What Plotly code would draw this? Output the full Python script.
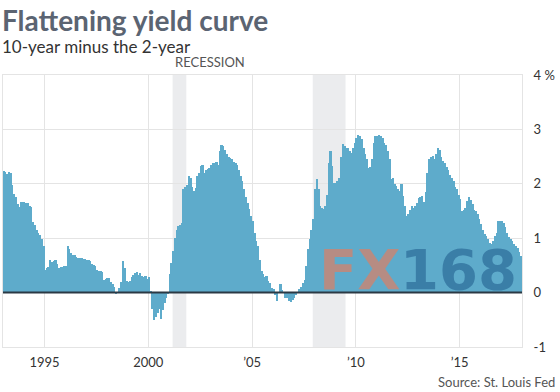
import plotly.graph_objects as go

# Monthly 10-year minus 2-year Treasury spread (percentage points), Jan 1993 - Dec 2017
spread_by_year = {
    1993: [2.23, 2.22, 2.18, 2.21, 2.20, 1.98, 1.82, 1.75, 1.62, 1.58, 1.66, 1.67],
    1994: [1.66, 1.65, 1.64, 1.59, 1.58, 1.30, 1.25, 1.15, 1.10, 1.05, 0.98, 0.85],
    1995: [0.42, 0.45, 0.47, 0.60, 0.56, 0.58, 0.60, 0.52, 0.45, 0.47, 0.47, 0.48],
    1996: [0.48, 0.85, 0.80, 0.72, 0.70, 0.70, 0.65, 0.64, 0.63, 0.63, 0.62, 0.62],
    1997: [0.60, 0.60, 0.58, 0.52, 0.50, 0.48, 0.42, 0.40, 0.40, 0.38, 0.24, 0.25],
    1998: [0.27, 0.27, 0.20, 0.15, 0.10, -0.03, 0.00, 0.08, 0.20, 0.58, 0.45, 0.22],
    1999: [0.20, 0.22, 0.28, 0.33, 0.36, 0.38, 0.33, 0.36, 0.30, 0.28, 0.30, 0.25],
    2000: [0.28, 0.02, -0.30, -0.50, -0.44, -0.38, -0.30, -0.48, -0.32, -0.20, -0.10, -0.03],
    2001: [0.35, 0.55, 0.76, 1.00, 1.16, 1.22, 1.25, 1.28, 1.90, 1.95, 1.98, 2.14],
    2002: [2.10, 1.95, 1.87, 1.93, 2.14, 2.20, 2.32, 2.35, 2.20, 2.25, 2.28, 2.29],
    2003: [2.35, 2.38, 2.38, 2.40, 2.35, 2.60, 2.72, 2.70, 2.62, 2.55, 2.50, 2.47],
    2004: [2.45, 2.40, 2.38, 2.35, 2.26, 2.15, 2.05, 1.90, 1.75, 1.65, 1.53, 1.40],
    2005: [1.31, 1.10, 0.95, 0.85, 0.60, 0.40, 0.35, 0.28, 0.30, 0.22, 0.17, 0.08],
    2006: [0.06, -0.05, -0.15, 0.00, 0.15, 0.05, 0.00, -0.09, -0.10, -0.15, -0.18, -0.14],
    2007: [-0.09, -0.05, 0.00, 0.06, 0.10, 0.18, 0.24, 0.48, 0.80, 0.98, 1.15, 1.35],
    2008: [1.90, 2.08, 1.90, 1.60, 1.55, 1.53, 1.60, 1.80, 2.38, 2.60, 2.33, 2.02],
    2009: [2.02, 2.05, 2.10, 2.50, 2.74, 2.70, 2.66, 2.66, 2.60, 2.57, 2.65, 2.75],
    2010: [2.84, 2.89, 2.88, 2.82, 2.66, 2.55, 2.45, 2.29, 2.30, 2.45, 2.75, 2.88],
    2011: [2.88, 2.90, 2.87, 2.85, 2.75, 2.72, 2.60, 2.45, 2.08, 2.10, 2.00, 1.96],
    2012: [1.90, 1.87, 2.00, 1.77, 1.59, 1.41, 1.45, 1.52, 1.59, 1.56, 1.60, 1.65],
    2013: [1.74, 1.76, 1.77, 1.66, 1.85, 2.20, 2.45, 2.50, 2.52, 2.45, 2.55, 2.66],
    2014: [2.62, 2.50, 2.42, 2.38, 2.30, 2.25, 2.17, 2.10, 2.05, 1.95, 1.90, 1.80],
    2015: [1.72, 1.50, 1.52, 1.55, 1.68, 1.75, 1.70, 1.63, 1.52, 1.50, 1.45, 1.35],
    2016: [1.26, 1.15, 1.07, 1.04, 0.98, 0.92, 0.89, 0.95, 1.04, 1.10, 1.31, 1.32],
    2017: [1.32, 1.28, 1.20, 1.10, 1.02, 0.98, 0.95, 0.90, 0.85, 0.82, 0.75, 0.68],
}

# Recession periods (decimal years)
recession_starts = [2001.17, 2007.92]
recession_ends = [2001.83, 2009.50]

tick_years = [1995, 2000, 2005, 2010, 2015]
tick_labels = ["1995", "2000", "\u201905", "\u201910", "\u201915"]
y_ticks = [4, 3, 2, 1, 0, -1]
y_tick_labels = ["4 %", "3", "2", "1", "0", "-1"]

months_x = []
values = []
for yr, vals in spread_by_year.items():
    for m, v in enumerate(vals):
        months_x.append(yr + (m + 0.5) / 12)
        values.append(v)

BAR = "#5eabcb"
GRID = "#e4e4e4"
FONT = "Lato"

fig = go.Figure()
fig.add_trace(go.Bar(x=months_x, y=values, width=1 / 12,
                     marker=dict(color=BAR, line=dict(width=0)),
                     hoverinfo="x+y"))

shapes = []
for s, e in zip(recession_starts, recession_ends):
    shapes.append(dict(type="rect", xref="x", yref="paper", x0=s, x1=e, y0=0, y1=1,
                       fillcolor="#ebecee", line=dict(width=0), layer="below"))
shapes.append(dict(type="line", xref="paper", yref="y", x0=0, x1=1, y0=0, y1=0,
                   line=dict(color="#2b3944", width=2), layer="above"))

annotations = [
    dict(text="<b>Flattening yield curve</b>", xref="paper", yref="paper", x=-0.006, y=1.203,
         xanchor="left", yanchor="middle", showarrow=False,
         font=dict(family=FONT, size=28, color="#5b6472")),
    dict(text="10-year minus the 2-year", xref="paper", yref="paper", x=-0.006, y=1.105,
         xanchor="left", yanchor="middle", showarrow=False,
         font=dict(family=FONT, size=17, color="#333333")),
    dict(text="RECESSION", xref="x", yref="paper", x=2001.17, y=1.012,
         xanchor="left", yanchor="bottom", showarrow=False,
         font=dict(family=FONT, size=13, color="#555555")),
    dict(text="Source: St. Louis Fed", xref="paper", yref="paper", x=1.068, y=-0.13,
         xanchor="right", yanchor="middle", showarrow=False,
         font=dict(family=FONT, size=13, color="#555555")),
    dict(text="<b>FX</b>", xref="x", yref="y", x=2010.15, y=0.42, xanchor="center", yanchor="middle",
         showarrow=False, opacity=0.75,
         font=dict(family="DejaVu Sans", size=56, color="#d4826c")),
    dict(text="<b>168</b>", xref="x", yref="y", x=2014.95, y=0.42, xanchor="center", yanchor="middle",
         showarrow=False, opacity=0.75,
         font=dict(family="DejaVu Sans", size=56, color="#2f6f9c")),
]

fig.update_layout(
    width=560, height=392,
    margin=dict(l=3, r=38, t=75, b=45),
    paper_bgcolor="white", plot_bgcolor="white",
    showlegend=False, bargap=0,
    shapes=shapes, annotations=annotations,
    font=dict(family=FONT, size=13, color="#333333"),
    xaxis=dict(range=[1993.0, 2018.0], tickvals=tick_years, ticktext=tick_labels,
               showgrid=True, gridcolor=GRID, gridwidth=1,
               showline=True, linecolor=GRID, linewidth=1, mirror=True,
               ticks="", zeroline=False, ticklabelstandoff=3,
               tickfont=dict(family=FONT, size=13, color="#333333")),
    yaxis=dict(range=[-1, 4], side="right", tickvals=y_ticks, ticktext=y_tick_labels,
               showgrid=True, gridcolor=GRID, gridwidth=1,
               showline=True, linecolor=GRID, linewidth=1, mirror=True,
               ticks="", zeroline=False, ticklabelstandoff=8,
               tickfont=dict(family=FONT, size=13, color="#333333")),
)

fig.write_html("out.html", config={"displayModeBar": False},
               post_script="document.body.style.margin='0';")
